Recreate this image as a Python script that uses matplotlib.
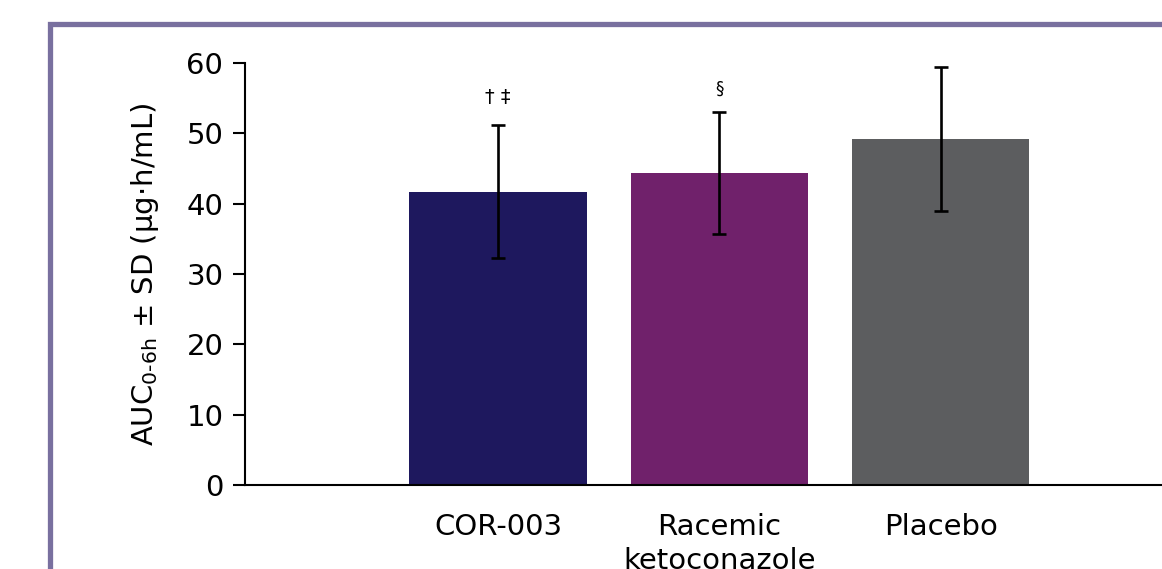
import matplotlib
matplotlib.use("Agg")
import matplotlib.pyplot as plt
from matplotlib.patches import Rectangle

plt.rcParams["font.family"] = ["DejaVu Sans"]
plt.rcParams["mathtext.fontset"] = "dejavusans"

groups = ["COR-003", "Racemic\nketoconazole", "Placebo"]
auc_mean = [41.7, 44.4, 49.2]
auc_sd = [9.45, 8.7, 10.2]
bar_colors = ["#1e185e", "#70216b", "#5c5d5f"]
marks = ["† ‡", "§", ""]
mark_y = [55.1, 56.4, 0]

fig = plt.figure(figsize=(11.62, 5.69), dpi=100)

# purple frame, runs off the right and bottom edges
fig.patches.append(Rectangle((49.5 / 1162, -0.1), 1.2, 1.1 - 23.5 / 569,
                             transform=fig.transFigure, fill=False,
                             edgecolor="#79709f", linewidth=3.8, zorder=0))

ax = fig.add_axes([245 / 1162, 1 - 485 / 569, 1 - 245 / 1162 + 0.002, (485 - 63) / 569])
x = range(len(groups))
ax.bar(x, auc_mean, width=0.8, color=bar_colors, zorder=2)
ax.errorbar(x, auc_mean, yerr=auc_sd, fmt="none", ecolor="black",
            elinewidth=1.9, capsize=4.8, capthick=1.9, zorder=3)
for i, m in enumerate(marks):
    if m:
        ax.text(i, mark_y[i], m, ha="center", va="center",
                fontsize=14 if i == 0 else 12)

ax.set_xlim(-1.143, 3.01)
ax.set_ylim(0, 60)
ax.set_yticks(range(0, 61, 10))
ax.set_xticks(list(x))
ax.set_xticklabels(groups, fontsize=21, linespacing=1.3)
ax.tick_params(axis="x", length=0, pad=20)
ax.tick_params(axis="y", labelsize=21, length=8.6, width=1.5, pad=7)
for s in ["top", "right"]:
    ax.spines[s].set_visible(False)
ax.spines["left"].set_linewidth(1.5)
ax.spines["bottom"].set_linewidth(1.5)
ax.spines["left"].set_bounds(0, 60)

ax.set_ylabel(r"AUC$_{\mathregular{0\text{-}6h}}$ ± SD (µg·h/mL)", fontsize=21, labelpad=18)

fig.savefig("out.png", dpi=100)
